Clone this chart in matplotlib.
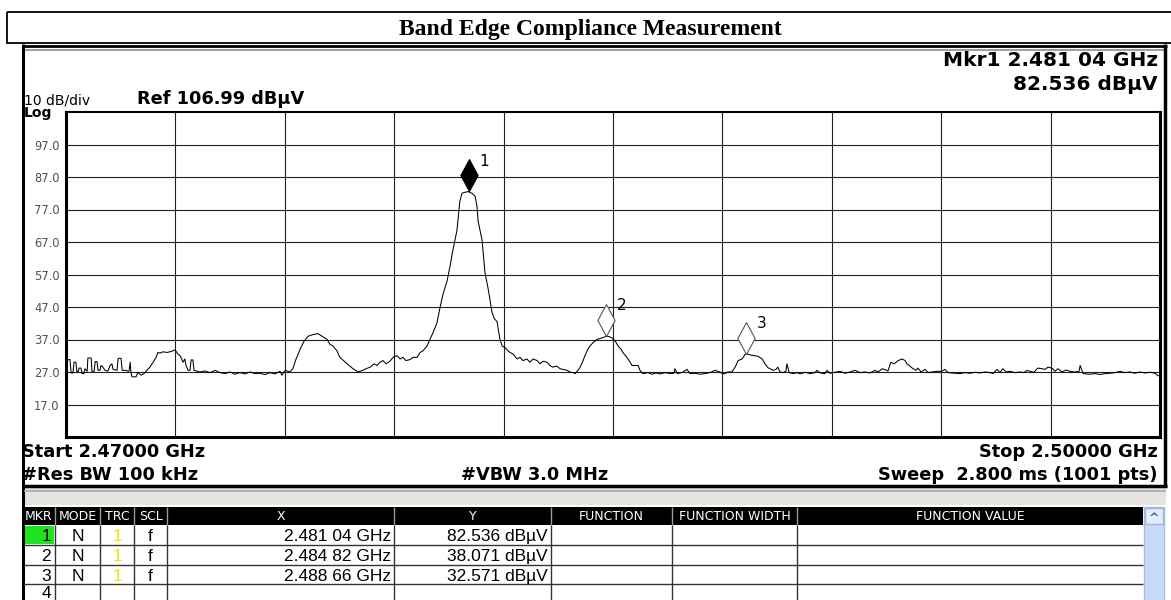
import matplotlib.pyplot as plt
from matplotlib.patches import Rectangle
from matplotlib.path import Path
import numpy as np

plt.rcParams['font.family'] = ['DejaVu Sans']

W, H = 1171, 600

# sweep settings
start_ghz = 2.47
stop_ghz = 2.50
ref_level = 106.99
db_per_div = 10

# trace (MHz, dBuV)
trace_mhz = [
    2470.00, 2470.05, 2470.11, 2470.14, 2470.19, 2470.22, 2470.27, 2470.30, 2470.33, 2470.36,
    2470.41, 2470.44, 2470.49, 2470.52, 2470.58, 2470.60, 2470.69, 2470.71, 2470.77, 2470.80,
    2470.85, 2470.88, 2470.93, 2470.96, 2471.01, 2471.07, 2471.15, 2471.21, 2471.26, 2471.29,
    2471.40, 2471.43, 2471.51, 2471.54, 2471.65, 2471.70, 2471.73, 2471.76, 2471.78, 2471.81,
    2471.92, 2471.97, 2472.06, 2472.14, 2472.22, 2472.30, 2472.39, 2472.47, 2472.52, 2472.58,
    2472.66, 2472.77, 2472.88, 2472.99, 2473.07, 2473.13, 2473.21, 2473.26, 2473.29, 2473.35,
    2473.40, 2473.43, 2473.48, 2473.51, 2473.67, 2473.81, 2473.95, 2474.09, 2474.22, 2474.36,
    2474.50, 2474.63, 2474.77, 2474.91, 2475.05, 2475.18, 2475.32, 2475.46, 2475.59, 2475.73,
    2475.87, 2475.92, 2476.01, 2476.14, 2476.22, 2476.31, 2476.42, 2476.53, 2476.64, 2476.77,
    2476.91, 2477.02, 2477.16, 2477.24, 2477.32, 2477.43, 2477.51, 2477.71, 2477.87, 2478.01,
    2478.14, 2478.23, 2478.34, 2478.45, 2478.53, 2478.61, 2478.69, 2478.78, 2478.88, 2478.97,
    2479.08, 2479.16, 2479.24, 2479.32, 2479.43, 2479.52, 2479.63, 2479.71, 2479.79, 2479.90,
    2479.98, 2480.06, 2480.17, 2480.26, 2480.34, 2480.45, 2480.53, 2480.61, 2480.72, 2480.80,
    2480.86, 2480.94, 2481.04, 2481.08, 2481.13, 2481.22, 2481.27, 2481.30, 2481.41, 2481.49,
    2481.57, 2481.68, 2481.74, 2481.82, 2481.90, 2481.96, 2482.04, 2482.12, 2482.18, 2482.26,
    2482.37, 2482.45, 2482.53, 2482.64, 2482.72, 2482.81, 2482.92, 2483.00, 2483.08, 2483.19,
    2483.27, 2483.35, 2483.46, 2483.55, 2483.63, 2483.74, 2483.82, 2483.90, 2483.96, 2484.04,
    2484.10, 2484.18, 2484.23, 2484.31, 2484.37, 2484.45, 2484.56, 2484.64, 2484.73, 2484.82,
    2484.89, 2484.97, 2485.06, 2485.14, 2485.22, 2485.27, 2485.38, 2485.47, 2485.52, 2485.69,
    2485.74, 2485.82, 2485.96, 2486.07, 2486.18, 2486.29, 2486.43, 2486.56, 2486.67, 2486.70,
    2486.76, 2486.89, 2487.03, 2487.11, 2487.25, 2487.39, 2487.52, 2487.66, 2487.80, 2487.88,
    2487.93, 2488.02, 2488.07, 2488.15, 2488.26, 2488.35, 2488.43, 2488.54, 2488.62, 2488.70,
    2488.78, 2488.89, 2488.98, 2489.09, 2489.17, 2489.25, 2489.31, 2489.39, 2489.47, 2489.52,
    2489.58, 2489.66, 2489.74, 2489.77, 2489.83, 2489.94, 2490.05, 2490.13, 2490.27, 2490.40,
    2490.54, 2490.59, 2490.68, 2490.81, 2490.87, 2490.95, 2491.09, 2491.23, 2491.36, 2491.50,
    2491.64, 2491.77, 2491.91, 2492.05, 2492.18, 2492.27, 2492.38, 2492.49, 2492.54, 2492.62,
    2492.71, 2492.82, 2492.93, 2493.01, 2493.06, 2493.14, 2493.23, 2493.31, 2493.36, 2493.45,
    2493.56, 2493.64, 2493.75, 2493.89, 2494.02, 2494.10, 2494.19, 2494.38, 2494.52, 2494.65,
    2494.79, 2494.93, 2495.06, 2495.20, 2495.34, 2495.42, 2495.53, 2495.61, 2495.69, 2495.78,
    2495.89, 2496.02, 2496.16, 2496.27, 2496.35, 2496.44, 2496.54, 2496.65, 2496.76, 2496.85,
    2496.93, 2497.04, 2497.12, 2497.20, 2497.31, 2497.42, 2497.53, 2497.67, 2497.78, 2497.81,
    2497.89, 2498.08, 2498.22, 2498.35, 2498.49, 2498.63, 2498.77, 2498.90, 2499.04, 2499.18,
    2499.31, 2499.45, 2499.59, 2499.73, 2499.86, 2499.95, 2500.00,
]
trace_dbuv = [
    27.0, 30.8, 30.8, 26.7, 26.7, 30.0, 30.0, 27.0, 27.0, 28.2,
    28.2, 26.5, 26.5, 28.0, 27.2, 31.3, 31.3, 27.2, 27.2, 30.2,
    30.2, 27.5, 27.5, 29.0, 28.5, 27.5, 27.3, 29.0, 29.5, 27.8,
    27.5, 31.2, 31.2, 27.5, 27.5, 27.2, 27.3, 30.0, 27.0, 25.5,
    25.5, 26.8, 26.0, 26.5, 27.5, 28.5, 30.0, 31.5, 33.0, 32.8,
    33.2, 33.0, 33.3, 33.8, 32.5, 32.0, 30.0, 31.0, 29.0, 27.5,
    27.5, 30.7, 30.7, 27.5, 27.0, 27.3, 26.8, 27.5, 26.8, 26.5,
    27.0, 26.3, 26.8, 26.4, 27.0, 26.5, 26.6, 26.2, 26.8, 26.4,
    27.2, 26.0, 27.5, 27.0, 28.0, 31.0, 34.0, 36.5, 38.0, 38.5,
    38.8, 38.0, 37.0, 35.5, 35.0, 33.5, 31.5, 29.5, 28.0, 27.0,
    27.5, 28.0, 28.5, 29.5, 29.0, 30.0, 30.5, 29.5, 30.3, 31.5,
    32.0, 31.0, 31.5, 30.5, 30.8, 31.5, 31.5, 33.0, 33.5, 35.0,
    37.0, 39.0, 42.0, 47.0, 51.0, 55.0, 59.5, 64.5, 70.5, 79.5,
    82.0, 82.3, 82.5, 82.2, 82.0, 81.0, 78.0, 73.5, 67.5, 57.5,
    53.0, 45.5, 43.5, 42.5, 37.0, 35.0, 34.5, 33.5, 33.0, 32.5,
    31.0, 31.5, 30.5, 31.0, 30.0, 31.0, 30.5, 29.5, 30.3, 30.0,
    29.0, 28.5, 28.8, 28.0, 27.8, 27.5, 27.0, 26.8, 26.5, 27.5,
    28.5, 30.5, 32.0, 34.0, 35.0, 36.0, 37.0, 37.3, 37.6, 38.0,
    37.9, 37.5, 36.5, 35.0, 34.0, 33.0, 31.5, 30.0, 29.0, 29.0,
    27.5, 26.5, 26.8, 26.3, 26.7, 26.4, 26.8, 26.5, 26.6, 28.0,
    26.5, 26.8, 27.8, 26.5, 26.6, 26.3, 26.5, 26.8, 27.5, 27.2,
    27.0, 26.4, 26.5, 27.0, 27.0, 28.5, 30.5, 31.0, 32.4, 32.5,
    32.2, 32.0, 31.8, 31.0, 29.5, 28.3, 28.0, 27.5, 27.8, 28.5,
    27.0, 26.8, 27.2, 29.5, 26.8, 26.5, 26.8, 26.4, 26.9, 26.5,
    26.8, 27.5, 26.7, 26.5, 27.5, 26.6, 26.9, 27.2, 26.6, 27.0,
    27.5, 26.8, 27.0, 26.7, 27.5, 27.0, 28.0, 27.6, 27.3, 30.0,
    29.5, 30.5, 31.0, 30.5, 29.5, 28.8, 28.0, 27.5, 28.2, 27.0,
    27.8, 26.8, 27.0, 27.2, 27.2, 27.8, 26.8, 26.6, 26.5, 26.8,
    26.6, 26.9, 26.7, 27.0, 26.8, 26.5, 27.8, 26.8, 28.0, 27.0,
    27.2, 26.8, 27.0, 26.8, 27.5, 27.2, 26.9, 28.2, 28.0, 27.8,
    28.5, 28.2, 27.2, 28.0, 27.0, 27.6, 27.2, 27.0, 27.2, 29.0,
    26.5, 26.3, 26.5, 26.2, 26.5, 26.6, 26.8, 27.2, 26.8, 27.0,
    26.6, 27.0, 26.7, 26.9, 26.6, 25.8, 26.0,
]

# marker table
mkr_num = ['1', '2', '3', '4']
mkr_ghz = [2.48104, 2.48482, 2.48866]
mkr_dbuv = [82.536, 38.071, 32.571]

col_names = ['MKR', 'MODE', 'TRC', 'SCL', 'X', 'Y', 'FUNCTION', 'FUNCTION WIDTH', 'FUNCTION VALUE']
col_edges = [23, 55, 100, 134, 167, 394, 551, 672, 797, 1143]


def fmt_ghz(f):
    s = f'{f:.5f}'
    return s[:5] + ' ' + s[5:]


fig = plt.figure(figsize=(W / 100, H / 100), dpi=100)
bg = fig.add_axes([0, 0, 1, 1])
bg.set_xlim(0, W)
bg.set_ylim(H, 0)
bg.axis('off')


def hline(y, x0, x1, **kw):
    bg.plot([x0, x1], [y, y], solid_capstyle='butt', **kw)


def vline(x, y0, y1, **kw):
    bg.plot([x, x], [y0, y1], solid_capstyle='butt', **kw)


# title box
bg.add_patch(Rectangle((7, 12), 1170, 31, fill=False, ec='black', lw=1.3))
bg.text(590, 29, 'Band Edge Compliance Measurement', family='Liberation Serif',
        weight='bold', fontsize=17, ha='center', va='center')

# analyzer frame
hline(45.5, 22, 1167, color='black', lw=2)
hline(49.5, 22, 1167, color='#8c8c8c', lw=1.2)
vline(23, 44, 600, color='black', lw=2.2)
vline(1165, 44, 487, color='black', lw=2.5)
hline(486, 22, 1167, color='black', lw=2.5)
bg.add_patch(Rectangle((24, 488), 1142, 17, fc='#e6e4de', ec='none'))
hline(490.5, 24, 1166, color='#a8a8a8', lw=1.2)

# annotations around the graticule
bg.text(1158, 61, f'Mkr1 {fmt_ghz(mkr_ghz[0])} GHz', ha='right', va='center',
        fontsize=14.5, weight='bold')
bg.text(1158, 85, f'{mkr_dbuv[0]:.3f} dBµV', ha='right', va='center',
        fontsize=14.5, weight='bold')
bg.text(24, 104, f'{db_per_div} dB/div', va='baseline', fontsize=10)
bg.text(137, 104, f'Ref {ref_level:.2f} dBµV', va='baseline', fontsize=12.8, weight='bold')
bg.text(24, 117, 'Log', va='baseline', fontsize=10, weight='bold')

bg.text(22, 457, f'Start {start_ghz:.5f} GHz', va='baseline', fontsize=12.8, weight='bold')
bg.text(1158, 457, f'Stop {stop_ghz:.5f} GHz', ha='right', va='baseline', fontsize=12.8, weight='bold')
bg.text(22, 480, '#Res BW 100 kHz', va='baseline', fontsize=12.8, weight='bold')
bg.text(535, 480, '#VBW 3.0 MHz', ha='center', va='baseline', fontsize=12.8, weight='bold')
bg.text(1158, 480, 'Sweep  2.800 ms (1001 pts)', ha='right', va='baseline', fontsize=12.8, weight='bold')

# graticule + trace
ax = fig.add_axes([66 / W, 1 - 437 / H, (1160 - 66) / W, (437 - 112) / H])
ax.plot(np.array(trace_mhz) / 1000, trace_dbuv, color='black', lw=0.75, zorder=3)
ax.set_xlim(start_ghz, stop_ghz)
ax.set_ylim(ref_level - 10 * db_per_div, ref_level)
ax.set_xticks(np.linspace(start_ghz, stop_ghz, 11))
ax.set_xticklabels([])
yt = [ref_level - k * db_per_div for k in range(1, 10)]
ax.set_yticks(yt)
ax.set_yticklabels([f'{v:.1f}' for v in yt], color='#505050', fontsize=8.3)
ax.tick_params(length=0, pad=4.5)
ax.grid(True, color='#222222', lw=0.8)
for side, w in [('left', 2.2), ('bottom', 2.2), ('right', 2.2), ('top', 1.5)]:
    ax.spines[side].set_linewidth(w)

# marker diamonds (bottom tip on the trace point)
diamond = Path([(0, 0), (0.27, 0.5), (0, 1), (-0.27, 0.5), (0, 0)],
               [Path.MOVETO, Path.LINETO, Path.LINETO, Path.LINETO, Path.CLOSEPOLY])
for i, (f, v) in enumerate(zip(mkr_ghz, mkr_dbuv)):
    if i == 0:
        ax.plot(f, v, marker=diamond, ms=46, mfc='black', mec='black', mew=0.8, zorder=4)
    else:
        ax.plot(f, v, marker=diamond, ms=46, mfc='white', mec='#555555', mew=0.8, zorder=4)
    ax.annotate(mkr_num[i], (f, v), xytext=(7.5, 18.5), textcoords='offset points',
                ha='left', va='baseline', fontsize=11, zorder=5)

# marker table
tbl_top, hdr_h = 507, 18
row_lines = [525, 545, 565, 584, 604]
bg.add_patch(Rectangle((col_edges[0], tbl_top), col_edges[-1] - col_edges[0], hdr_h, fc='black', ec='none'))
for x in col_edges[1:-1]:
    vline(x, tbl_top, tbl_top + hdr_h, color='#9a9a9a', lw=1)
    vline(x, row_lines[0], 600, color='#333333', lw=1)
for y in row_lines[1:4]:
    hline(y, col_edges[0], col_edges[-1], color='#333333', lw=1)
for name, x0, x1 in zip(col_names, col_edges[:-1], col_edges[1:]):
    bg.text((x0 + x1) / 2, tbl_top + hdr_h / 2 + 0.5, name, color='white', ha='center', va='center',
            fontsize=9, family=['Liberation Sans Narrow', 'DejaVu Sans'])

bg.add_patch(Rectangle((col_edges[0] + 1, row_lines[0] + 1), col_edges[1] - col_edges[0] - 2,
                       row_lines[1] - row_lines[0] - 2, fc='#1ee31e', ec='none'))
row_font = dict(fontsize=12.5, family=['Liberation Sans', 'DejaVu Sans'], va='baseline')
for r, num in enumerate(mkr_num):
    yb = row_lines[r] + 16
    bg.text(col_edges[1] - 4, min(yb, 598), num, ha='right', **row_font)
    if r >= len(mkr_ghz):
        continue
    bg.text((col_edges[1] + col_edges[2]) / 2, yb, 'N', ha='center', **row_font)
    bg.text((col_edges[2] + col_edges[3]) / 2, yb, '1', ha='center', color='#f2e600', **row_font)
    bg.text((col_edges[3] + col_edges[4]) / 2, yb, 'f', ha='center', **row_font)
    bg.text(col_edges[5] - 3, yb, f'{fmt_ghz(mkr_ghz[r])} GHz', ha='right', **row_font)
    bg.text(col_edges[6] - 3, yb, f'{mkr_dbuv[r]:.3f} dBµV', ha='right', **row_font)

# scrollbar
bg.add_patch(Rectangle((1144, tbl_top), 20, 95, fc='#c9daf8', ec='#a5bde6', lw=1))
bg.add_patch(Rectangle((1145, tbl_top + 1), 18, 16, fc='#e4ecfb', ec='#9db5e0', lw=1))
bg.text(1154, tbl_top + 11, '^', ha='center', va='center', fontsize=9, color='#4a5f8a', weight='bold')

fig.savefig('out.png', dpi=100)
